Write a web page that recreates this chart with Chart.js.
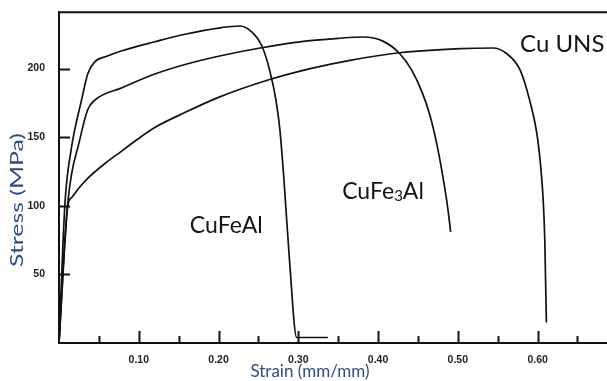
<!DOCTYPE html>
<html><head><meta charset="utf-8">
<script src="https://cdn.jsdelivr.net/npm/chart.js@4"></script>
<style>html,body{margin:0;padding:0;background:#fff}canvas{display:block}</style>
</head><body>
<canvas id="c" width="607" height="381"></canvas>
<script>
// ---- data ----
const cuFeAlStrain = [0, 0.0075, 0.015, 0.029, 0.036, 0.045, 0.06, 0.079, 0.12, 0.158, 0.20, 0.227, 0.243, 0.254, 0.264, 0.272, 0.277, 0.282, 0.289, 0.298, 0.337];
const cuFeAlStress = [0, 102, 140, 179, 196, 205, 209, 213, 219.5, 225, 229.5, 231, 226, 217, 199, 177, 155, 119, 60, 4, 4];

const cuFe3AlStrain = [0, 0.011, 0.026, 0.036, 0.045, 0.079, 0.12, 0.158, 0.20, 0.252, 0.302, 0.35, 0.381, 0.406, 0.427, 0.442, 0.455, 0.465, 0.474, 0.481, 0.487, 0.491];
const cuFe3AlStress = [0, 102, 148, 170, 177, 186, 196, 203, 209, 215, 219.5, 222, 223, 220, 211, 199, 183, 166, 144, 122, 100, 81];

const cuUnsStrain = [0, 0.011, 0.016, 0.025, 0.036, 0.058, 0.079, 0.095, 0.12, 0.158, 0.20, 0.264, 0.315, 0.365, 0.427, 0.503, 0.544, 0.561, 0.578, 0.590, 0.599, 0.604, 0.607, 0.609, 0.611];
const cuUnsStress = [0, 100, 106, 113, 120, 131, 140, 147, 157, 168, 179, 192, 200, 206, 211.5, 214.5, 215, 211, 199, 177, 153, 128, 104, 75, 15];

const xTickLabels = ['0.10', '0.20', '0.30', '0.40', '0.50', '0.60'];
const yTickLabels = ['50', '100', '150', '200'];

const seriesNames = ['CuFeAl', 'CuFe3Al', 'Cu UNS'];
const xTitle = 'Strain (mm/mm)';
const yTitle = 'Stress (MPa)';

// label anchors in data units (left/baseline)
const labelAnchors = [
  {x: 0.164, y: 80},
  {x: 0.355, y: 105},
  {x: 0.578, y: 212}
];

const toPts = (xs, ys) => xs.map((v, i) => ({x: v, y: ys[i]}));

const decor = {
  id: 'decor',
  afterDatasetsDraw(chart) {
    const {ctx, chartArea: a, scales: {x, y}} = chart;
    ctx.save();
    ctx.strokeStyle = '#111';
    ctx.lineWidth = 2;
    // top frame line
    ctx.beginPath();
    ctx.moveTo(a.left - 1, a.top);
    ctx.lineTo(a.right, a.top);
    ctx.stroke();
    // inward tick marks
    x.ticks.forEach(t => {
      if (t.value <= 0) return;
      const px = Math.round(x.getPixelForValue(t.value)) + 0.5;
      const major = Math.abs(t.value * 10 - Math.round(t.value * 10)) < 1e-6;
      const len = major ? 12 : 7;
      ctx.beginPath();
      ctx.moveTo(px, a.bottom);
      ctx.lineTo(px, a.bottom - len);
      ctx.stroke();
    });
    y.ticks.forEach(t => {
      if (t.value <= 0) return;
      const py = Math.round(y.getPixelForValue(t.value)) + 0.5;
      ctx.beginPath();
      ctx.moveTo(a.left, py);
      ctx.lineTo(a.left + 11, py);
      ctx.stroke();
    });

    // series labels
    ctx.fillStyle = '#151515';
    ctx.textBaseline = 'alphabetic';
    ctx.textAlign = 'left';
    seriesNames.forEach((name, i) => {
      const px = x.getPixelForValue(labelAnchors[i].x);
      const py = y.getPixelForValue(labelAnchors[i].y);
      const m = name.match(/^(.*?)(\d)(.*)$/);
      if (m) {
        ctx.font = '23px Lato';
        ctx.fillText(m[1], px, py);
        let w = ctx.measureText(m[1]).width;
        ctx.font = '15px Lato';
        ctx.fillText(m[2], px + w, py + 2);
        w += ctx.measureText(m[2]).width;
        ctx.font = '23px Lato';
        ctx.fillText(m[3], px + w, py);
      } else {
        ctx.font = (i === 2 ? '24px' : '23px') + ' Lato';
        ctx.fillText(name, px, py);
      }
    });

    // axis titles
    ctx.fillStyle = '#2b4c8c';
    ctx.font = '17px Lato';
    ctx.textAlign = 'center';
    ctx.fillText(xTitle, 310, 377);
    ctx.save();
    ctx.translate(23, 200);
    ctx.rotate(-Math.PI / 2);
    const tw = ctx.measureText(yTitle).width;
    ctx.scale(134 / tw, 1);
    ctx.fillText(yTitle, 0, 0);
    ctx.restore();
    ctx.restore();
  }
};

new Chart(document.getElementById('c'), {
  type: 'line',
  data: {
    datasets: [
      {label: seriesNames[0], data: toPts(cuFeAlStrain, cuFeAlStress)},
      {label: seriesNames[1], data: toPts(cuFe3AlStrain, cuFe3AlStress)},
      {label: seriesNames[2], data: toPts(cuUnsStrain, cuUnsStress)}
    ].map(d => Object.assign(d, {
      borderColor: '#111', borderWidth: 1.7, pointRadius: 0, fill: false,
      cubicInterpolationMode: 'monotone'
    }))
  },
  options: {
    responsive: false,
    animation: false,
    devicePixelRatio: 1,
    layout: {padding: {top: 12, right: 0, left: 0, bottom: 0}},
    plugins: {legend: {display: false}, tooltip: {enabled: false}},
    scales: {
      x: {
        type: 'linear', min: 0, max: 0.687,
        grid: {display: false},
        border: {color: '#111', width: 2},
        ticks: {
          stepSize: 0.05, includeBounds: false, autoSkip: false, maxRotation: 0,
          padding: 3, color: '#222', font: {family: 'Liberation Sans', size: 10.5, weight: 'bold'},
          callback: v => { const s = Number(v).toFixed(2); return xTickLabels.includes(s) ? s : ''; }
        },
        afterFit: s => { s.height = 38; }
      },
      y: {
        min: 0, max: 241,
        grid: {display: false},
        border: {color: '#111', width: 2},
        ticks: {
          stepSize: 50, includeBounds: false, padding: 6, color: '#222',
          font: {family: 'Liberation Sans', size: 10.5, weight: 'bold'},
          callback: v => { const s = String(Math.round(v)); return yTickLabels.includes(s) ? s : ''; }
        },
        afterFit: s => { s.width = 59; }
      }
    }
  },
  plugins: [decor]
});
</script>
</body></html>
